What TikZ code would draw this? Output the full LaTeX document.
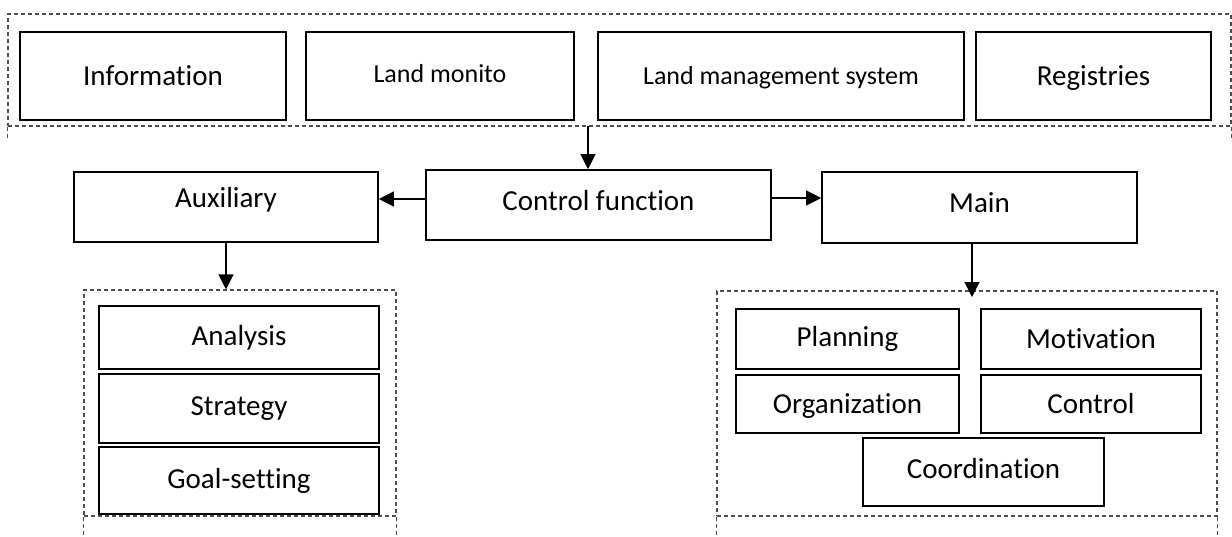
\documentclass[tikz,border=0pt]{standalone}
\usepackage{fontspec}
\setmainfont{Carlito}[RawFeature={-liga;-clig}]
\usetikzlibrary{arrows.meta}
\newcommand{\upby}[2]{\raisebox{#1}[\height][\depth]{#2}}
\tikzset{
  bx/.style={draw=black, line width=1.6pt, fill=white, inner sep=0pt,
    font=\fontsize{29}{34}\selectfont},
  smallbx/.style={bx, font=\fontsize{26}{31}\selectfont},
  frame/.style={draw=black!70, line width=1.1pt, dash pattern=on 4pt off 3pt, inner sep=0pt},
  framext/.style={draw=black!70, line width=1.1pt, dash pattern=on 4pt off 3pt},
  arr/.style={draw=black, line width=1.1pt, -{Triangle[length=15pt,width=15pt]}}
}
\begin{document}
\begin{tikzpicture}[x=1pt,y=-1pt]
\useasboundingbox (0,0) rectangle (1232,536);
% top frame
\node[frame, minimum width=1223pt, minimum height=112pt] (topf) at (619.5,70) {};
\draw[framext] (topf.south west) -- ++(0,12);
\draw[framext] (topf.south east) -- ++(0,14);
\node[bx, minimum width=266pt, minimum height=88pt] (info) at (153,76) {Information};
\node[smallbx, minimum width=268pt, minimum height=88pt] (mon) at (440,76) {\upby{2pt}{Land monito}};
\node[smallbx, minimum width=366pt, minimum height=88pt] (lms) at (781,76) {\upby{-2pt}{Land management system}};
\node[bx, minimum width=235pt, minimum height=88pt] (reg) at (1093.5,76) {\upby{-2pt}{Registries}};
% middle row
\node[bx, minimum width=345pt, minimum height=70pt] (ctrl) at (598.5,205) {\upby{4pt}{Control function}};
\node[bx, minimum width=304pt, minimum height=70pt] (aux) at (226,207) {\upby{7pt}{Auxiliary}};
\node[bx, minimum width=315pt, minimum height=71pt] (main) at (979.5,207.5) {\upby{5pt}{Main}};
% arrows
\coordinate (t1) at (588,126);
\draw[arr] (t1) -- (t1 |- ctrl.north);
\coordinate (c1) at (ctrl.west |- 0,199);
\draw[arr] (c1) -- (c1 -| aux.east);
\coordinate (c2) at (ctrl.east |- 0,198);
\draw[arr] (c2) -- (c2 -| main.west);
% left frame
\node[frame, minimum width=312pt, minimum height=226pt] (lf) at (240,403) {};
\draw[framext] (lf.south west) -- ++(0,20);
\draw[framext] (lf.south east) -- ++(0,20);
\draw[arr] (aux.south) -- (aux.south |- lf.north);
\node[bx, minimum width=280pt, minimum height=63pt] (ana) at (239,337.5) {Analysis};
\node[bx, minimum width=280pt, minimum height=69pt] (str) at (239,408.5) {Strategy};
\node[bx, minimum width=280pt, minimum height=67pt] (goal) at (239,480.5) {Goal-setting};
% right frame
\node[frame, minimum width=500pt, minimum height=225pt] (rf) at (967,403.5) {};
\draw[framext] (rf.south west) -- ++(0,20);
\draw[framext] (rf.south east) -- ++(0,20);
\coordinate (m1) at (972,243);
\coordinate (m2) at (972,297);
\draw[arr] (m1) -- (m2);
\node[bx, minimum width=223pt, minimum height=60pt] (plan) at (847.5,339) {Planning};
\node[bx, minimum width=220pt, minimum height=60pt] (mot) at (1091,339) {Motivation};
\node[bx, minimum width=223pt, minimum height=58pt] (org) at (847.5,404) {\upby{-2pt}{Organization}};
\node[bx, minimum width=220pt, minimum height=58pt] (ctl) at (1091,404) {Control};
\node[bx, minimum width=241pt, minimum height=68pt] (coord) at (983.5,472) {\upby{3pt}{Coordination}};
\end{tikzpicture}
\end{document}
